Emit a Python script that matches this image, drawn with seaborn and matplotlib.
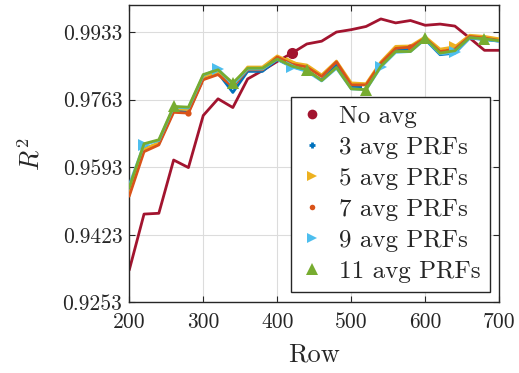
# libraries
import numpy as np
import pandas as pd
import seaborn as sns
import matplotlib.pyplot as plt
from matplotlib.lines import Line2D

import warnings
warnings.filterwarnings('ignore')

rows = list(range(200, 701, 20))

no_avg = [0.9334, 0.9475, 0.9477, 0.9611, 0.9592, 0.9723, 0.9765, 0.9743, 0.9815, 0.9836,
          0.9859, 0.9880, 0.9903, 0.9910, 0.9933, 0.9939, 0.9947, 0.9966, 0.9956, 0.9962,
          0.9950, 0.9953, 0.9948, 0.9918, 0.9887, 0.9887]
avg3 = [0.9530, 0.9640, 0.9652, 0.9735, 0.9732, 0.9815, 0.9830, 0.9781, 0.9834, 0.9834,
        0.9864, 0.9846, 0.9836, 0.9812, 0.9850, 0.9795, 0.9795, 0.9850, 0.9886, 0.9890,
        0.9914, 0.9876, 0.9880, 0.9918, 0.9914, 0.9910]
avg5 = [0.9525, 0.9638, 0.9655, 0.9740, 0.9738, 0.9820, 0.9832, 0.9800, 0.9845, 0.9845,
        0.9873, 0.9856, 0.9850, 0.9825, 0.9860, 0.9805, 0.9803, 0.9858, 0.9897, 0.9898,
        0.9921, 0.9890, 0.9896, 0.9925, 0.9922, 0.9916]
avg7 = [0.9520, 0.9632, 0.9649, 0.9731, 0.9729, 0.9813, 0.9826, 0.9795, 0.9838, 0.9838,
        0.9870, 0.9852, 0.9845, 0.9821, 0.9858, 0.9800, 0.9800, 0.9855, 0.9892, 0.9895,
        0.9918, 0.9884, 0.9890, 0.9922, 0.9918, 0.9912]
avg9 = [0.9548, 0.9650, 0.9660, 0.9744, 0.9742, 0.9824, 0.9840, 0.9800, 0.9840, 0.9840,
        0.9864, 0.9845, 0.9834, 0.9810, 0.9842, 0.9790, 0.9788, 0.9845, 0.9882, 0.9884,
        0.9915, 0.9878, 0.9882, 0.9918, 0.9915, 0.9910]
avg11 = [0.9542, 0.9652, 0.9662, 0.9746, 0.9744, 0.9826, 0.9838, 0.9805, 0.9842, 0.9842,
         0.9865, 0.9847, 0.9838, 0.9811, 0.9844, 0.9790, 0.9788, 0.9847, 0.9884, 0.9884,
         0.9917, 0.9880, 0.9886, 0.9919, 0.9916, 0.9911]

labels = ['No avg', '3 avg PRFs', '5 avg PRFs', '7 avg PRFs', '9 avg PRFs', '11 avg PRFs']
yticks = [0.9253, 0.9423, 0.9593, 0.9763, 0.9933]
xticks = [200, 300, 400, 500, 600, 700]

# style (MATLAB look)
colors = ['#A2142F', '#0072BD', '#EDB120', '#D95319', '#4DBEEE', '#77AC30']
markers = ['o', '+', '>', '.', '>', '^']
msizes = [8, 6, 8, 9, 8, 9]
mark_idx = [[11], [5, 16], [11, 22], [4, 19], [1, 6, 11, 17, 22], [3, 7, 12, 16, 20, 24]]

sns.set_style('ticks')
plt.rcParams['font.family'] = ['cmr10', 'DejaVu Serif']
plt.rcParams['mathtext.fontset'] = 'cm'
plt.rcParams['axes.formatter.use_mathtext'] = True

df = pd.DataFrame({'Row': rows, labels[0]: no_avg, labels[1]: avg3, labels[2]: avg5,
                   labels[3]: avg7, labels[4]: avg9, labels[5]: avg11})

fig = plt.figure(figsize=(5.19, 3.73), dpi=100)
ax = fig.add_axes([0.249, 0.1895, 0.713, 0.796])

for i, lab in enumerate(labels):
    sns.lineplot(data=df, x='Row', y=lab, ax=ax, color=colors[i], lw=2,
                 marker=markers[i], markersize=msizes[i], markevery=mark_idx[i],
                 markeredgewidth=1.5 if markers[i] == '+' else 0, zorder=2 + i)

ax.set_xlim(200, 700)
ax.set_ylim(0.9253, 1.0)
ax.set_xticks(xticks)
ax.set_xticklabels([str(t) for t in xticks])
ax.set_yticks(yticks)
ax.set_yticklabels([f'{t:.4f}' for t in yticks])
ax.tick_params(direction='in', top=True, right=True, labelsize=15.5, length=4,
               color='#262626', pad=5)
ax.tick_params(axis='x', pad=7)
ax.grid(True, color='#dcdcdc', lw=0.8)
for s in ax.spines.values():
    s.set_color('#262626')
    s.set_linewidth(1)

ax.set_xlabel('Row', fontsize=19, labelpad=8)
ax.set_ylabel('$R^2$', fontsize=19, labelpad=13)

# legend with markers only
handles = [Line2D([], [], ls='none', color=colors[i], marker=markers[i],
                  markersize=msizes[i] - 1, markeredgewidth=2 if markers[i] == '+' else 0)
           for i in range(len(labels))]
leg = ax.legend(handles, labels, loc='upper left', bbox_to_anchor=(0.436, 0.692),
                borderaxespad=0, fontsize=18, frameon=True, fancybox=False,
                edgecolor='#262626', framealpha=1, handlelength=1.0,
                handletextpad=0.6, labelspacing=0.34, borderpad=0.35)
leg.get_frame().set_linewidth(1)
leg.set_zorder(20)

fig.savefig('out.png', dpi=100)
